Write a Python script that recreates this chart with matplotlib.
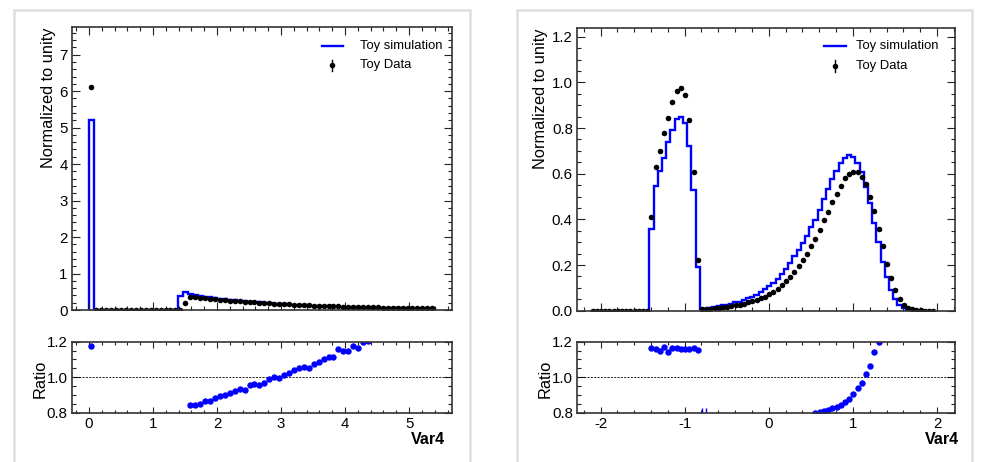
import numpy as np
import matplotlib
matplotlib.use("Agg")
import matplotlib.pyplot as plt
from matplotlib.patches import Rectangle
from matplotlib.ticker import MultipleLocator, FormatStrFormatter

plt.rcParams['font.family'] = ['Liberation Sans', 'DejaVu Sans']
plt.rcParams['axes.unicode_minus'] = False

# ---- left panel: 70 bins on [0, 5.4]
left_range = (0.0, 5.4)
left_sim = [
    5.22, 0.0, 0.0, 0.0, 0.0, 0.0, 0.0, 0.0, 0.0, 0.0,
    0.0, 0.0, 0.0, 0.0, 0.0, 0.0, 0.0, 0.0, 0.39, 0.49,
    0.427, 0.409, 0.391, 0.366, 0.350, 0.329, 0.312, 0.297, 0.282, 0.266,
    0.252, 0.243, 0.226, 0.215, 0.207, 0.196, 0.184, 0.174, 0.168, 0.158,
    0.149, 0.141, 0.133, 0.127, 0.123, 0.114, 0.109, 0.103, 0.098, 0.093,
    0.086, 0.083, 0.079, 0.075, 0.072, 0.068, 0.064, 0.061, 0.057, 0.054,
    0.051, 0.048, 0.046, 0.043, 0.041, 0.039, 0.037, 0.035, 0.033, 0.031,
]
left_data = [
    6.12, 0.0, 0.0, 0.0, 0.0, 0.0, 0.0, 0.0, 0.0, 0.0,
    0.0, 0.0, 0.0, 0.0, 0.0, 0.0, 0.0, 0.0, 0.0, 0.18,
    0.360, 0.346, 0.331, 0.317, 0.304, 0.291, 0.279, 0.267, 0.256, 0.245,
    0.235, 0.225, 0.216, 0.207, 0.198, 0.190, 0.182, 0.174, 0.167, 0.160,
    0.153, 0.147, 0.140, 0.134, 0.129, 0.123, 0.118, 0.113, 0.109, 0.104,
    0.100, 0.095, 0.091, 0.088, 0.084, 0.081, 0.077, 0.074, 0.071, 0.068,
    0.065, 0.062, 0.060, 0.057, 0.055, 0.053, 0.050, 0.048, 0.046, 0.044,
]
left_ratio = [
    1.175, None, None, None, None, None, None, None, None, None,
    None, None, None, None, None, None, None, None, None, None,
    0.843, 0.845, 0.847, 0.866, 0.868, 0.885, 0.894, 0.898, 0.909, 0.921,
    0.932, 0.926, 0.955, 0.964, 0.958, 0.968, 0.989, 1.002, 0.996, 1.013,
    1.025, 1.043, 1.051, 1.057, 1.053, 1.075, 1.083, 1.102, 1.113, 1.113,
    1.158, 1.145, 1.147, 1.175, 1.166, 1.198, 1.203, None, None, None,
    None, None, None, None, None, None, None, None, None, None,
]

# ---- right panel: 82 bins of width 0.05 starting at -2.12
right_range = (-2.12, 1.98)
right_sim = [
    0.0, 0.0, 0.0, 0.0, 0.0, 0.0, 0.0, 0.0, 0.0, 0.0,
    0.0, 0.0, 0.0, 0.0, 0.357, 0.545, 0.61, 0.67, 0.74, 0.79,
    0.84, 0.85, 0.82, 0.72, 0.53, 0.19, 0.0083, 0.0096, 0.0129, 0.0159,
    0.019, 0.0235, 0.027, 0.031, 0.036, 0.040, 0.046, 0.054, 0.061, 0.070,
    0.081, 0.093, 0.107, 0.122, 0.141, 0.161, 0.184, 0.210, 0.238, 0.267,
    0.298, 0.329, 0.365, 0.399, 0.441, 0.490, 0.531, 0.575, 0.614, 0.645,
    0.667, 0.682, 0.675, 0.645, 0.606, 0.543, 0.470, 0.385, 0.302, 0.215,
    0.149, 0.090, 0.050, 0.025, 0.010, 0.003, 0.0, 0.0, 0.0, 0.0,
    0.0, 0.0,
]
right_data = [
    0.0, 0.0, 0.0, 0.0, 0.0, 0.0, 0.0, 0.0, 0.0, 0.0,
    0.0, 0.0, 0.0, 0.0, 0.41, 0.628, 0.70, 0.777, 0.842, 0.915,
    0.962, 0.975, 0.943, 0.834, 0.609, 0.222, 0.006, 0.007, 0.009, 0.011,
    0.013, 0.016, 0.018, 0.021, 0.024, 0.027, 0.031, 0.036, 0.041, 0.047,
    0.054, 0.062, 0.072, 0.083, 0.096, 0.111, 0.129, 0.149, 0.171, 0.195,
    0.222, 0.250, 0.283, 0.315, 0.353, 0.397, 0.434, 0.474, 0.510, 0.546,
    0.582, 0.600, 0.609, 0.606, 0.587, 0.555, 0.500, 0.436, 0.360, 0.283,
    0.205, 0.143, 0.090, 0.050, 0.025, 0.013, 0.007, 0.003, 0.001, 0.0,
    0.0, 0.0,
]
right_ratio = [
    None, None, None, None, None, None, None, None, None, None,
    None, None, None, None, 1.164, 1.158, 1.150, 1.168, 1.141, 1.166,
    1.162, 1.158, 1.158, 1.160, 1.162, 1.156, 0.72, 0.73, None, None,
    None, None, None, None, None, None, None, None, None, None,
    None, None, None, None, None, None, None, None, None, None,
    None, None, None, 0.798, 0.803, 0.810, 0.818, 0.825, 0.830, 0.845,
    0.860, 0.875, 0.905, 0.940, 0.970, 1.020, 1.065, 1.140, 1.200, None,
    None, None, None, None, None, None, None, None, None, None,
    None, None,
]
# only the two clipped points below 0.8 show their error bars
right_ratio_err = [0.0] * 26 + [0.105, 0.095] + [0.0] * 54


def px_axes(fig, l, t, r, b):
    W, H = 985.0, 462.0
    return fig.add_axes([l / W, 1 - b / H, (r - l) / W, (b - t) / H])


def style_axis(ax, xmaj, xmin, ymaj, ymin, ratio=False):
    ax.xaxis.set_major_locator(MultipleLocator(xmaj))
    ax.xaxis.set_minor_locator(MultipleLocator(xmin))
    ax.yaxis.set_major_locator(MultipleLocator(ymaj))
    ax.yaxis.set_minor_locator(MultipleLocator(ymin))
    ax.tick_params(which='both', direction='in', top=True, right=True,
                   width=0.8, colors='#222222', labelcolor='black',
                   labelsize=10.8, pad=3)
    if ratio:
        ax.tick_params(axis='x', which='major', length=4.5)
        ax.tick_params(axis='x', which='minor', length=2.3)
        ax.tick_params(axis='y', which='major', length=5.5)
        ax.tick_params(axis='y', which='minor', length=2.8)
    else:
        ax.tick_params(which='major', length=5.8)
        ax.tick_params(which='minor', length=2.9)
    for s in ax.spines.values():
        s.set_linewidth(1.2)
        s.set_color('#333333')


def draw_panel(fig, box_main, box_ratio, rng, nb, sim, data, ratio,
               xlim, ylim, ymaj, ymin, yfmt, xmaj, xmin, ylab_x, rlab_x,
               var_x, leg, ratio_err=None):
    edges = np.linspace(rng[0], rng[1], nb + 1)
    centers = 0.5 * (edges[1:] + edges[:-1])
    sim = np.array(sim, dtype=float)
    data = np.array(data, dtype=float)
    ratio = np.array(ratio, dtype=float)

    ax = px_axes(fig, *box_main)
    ax.stairs(sim, edges, baseline=0, color='blue', linewidth=1.7)
    ax.plot(centers, data, 'o', color='black', ms=4.0, mew=0)
    ax.set_xlim(*xlim)
    ax.set_ylim(*ylim)
    style_axis(ax, xmaj, xmin, ymaj, ymin)
    ax.yaxis.set_major_formatter(FormatStrFormatter(yfmt))
    ax.tick_params(labelbottom=False)

    # legend
    lx0, lx1, ly1, tx, ly2, mx = leg
    ax.plot([lx0, lx1], [ly1, ly1], color='blue', lw=1.7, transform=ax.transAxes)
    ax.text(tx, ly1, 'Toy simulation', transform=ax.transAxes, fontsize=9.4,
            va='center', ha='left')
    ax.plot([mx, mx], [ly2 - 0.02, ly2 + 0.02], color='black', lw=1.0,
            transform=ax.transAxes)
    ax.plot(mx, ly2, 'o', color='black', ms=4.0, mew=0, transform=ax.transAxes)
    ax.text(tx, ly2, 'Toy Data', transform=ax.transAxes, fontsize=9.4,
            va='center', ha='left')

    fig.text(ylab_x / 985, 1 - box_main[1] / 462, 'Normalized to unity',
             rotation=90, ha='center', va='top', fontsize=11.8)

    axr = px_axes(fig, *box_ratio)
    axr.axhline(1.0, color='black', lw=0.6, ls=(0, (2.5, 1.5)))
    if ratio_err is not None:
        err = np.array(ratio_err, dtype=float)
        m = err > 0
        axr.errorbar(centers[m], ratio[m], yerr=err[m], fmt='none',
                     ecolor='blue', elinewidth=1.0)
    axr.plot(centers, ratio, 'o', color='blue', ms=4.6, mew=0)
    axr.set_xlim(*xlim)
    axr.set_ylim(0.8, 1.2)
    style_axis(axr, xmaj, xmin, 0.2, 0.05, ratio=True)
    axr.yaxis.set_major_formatter(FormatStrFormatter('%.1f'))
    axr.xaxis.set_major_formatter(FormatStrFormatter('%g'))
    fig.text(rlab_x / 985, 1 - 379 / 462, 'Ratio', rotation=90,
             ha='center', va='center', fontsize=11.8)
    fig.text(var_x / 985, 1 - 439 / 462, 'Var4', ha='right', va='center',
             fontsize=11.6, fontweight='bold')


fig = plt.figure(figsize=(9.85, 4.62), dpi=100)

# canvas frames
for x0, x1 in [(14, 470), (517, 972)]:
    fig.add_artist(Rectangle((x0 / 985, -0.05), (x1 - x0) / 985, 1.05 - 10 / 462,
                             transform=fig.transFigure, facecolor='white',
                             edgecolor='#dedede', linewidth=1.8, zorder=-5))

draw_panel(fig, (71.7, 27.3, 452, 310), (71.7, 341.7, 452, 412.7),
           left_range, 70, left_sim, left_data, left_ratio,
           xlim=(-0.27, 5.67), ylim=(0, 7.75), ymaj=1, ymin=0.2, yfmt='%d',
           xmaj=1, xmin=0.2, ylab_x=49, rlab_x=40, var_x=445,
           leg=(0.657, 0.714, 0.934, 0.758, 0.866, 0.685))

draw_panel(fig, (577, 28.3, 954.7, 310.7), (577, 341.7, 954.7, 412.7),
           right_range, 82, right_sim, right_data, right_ratio,
           xlim=(-2.28, 2.21), ylim=(0, 1.237), ymaj=0.2, ymin=0.05, yfmt='%.1f',
           xmaj=1, xmin=0.2, ylab_x=541, rlab_x=545, var_x=959,
           leg=(0.655, 0.712, 0.936, 0.739, 0.8665, 0.684),
           ratio_err=right_ratio_err)

fig.savefig('out.png', dpi=100)
